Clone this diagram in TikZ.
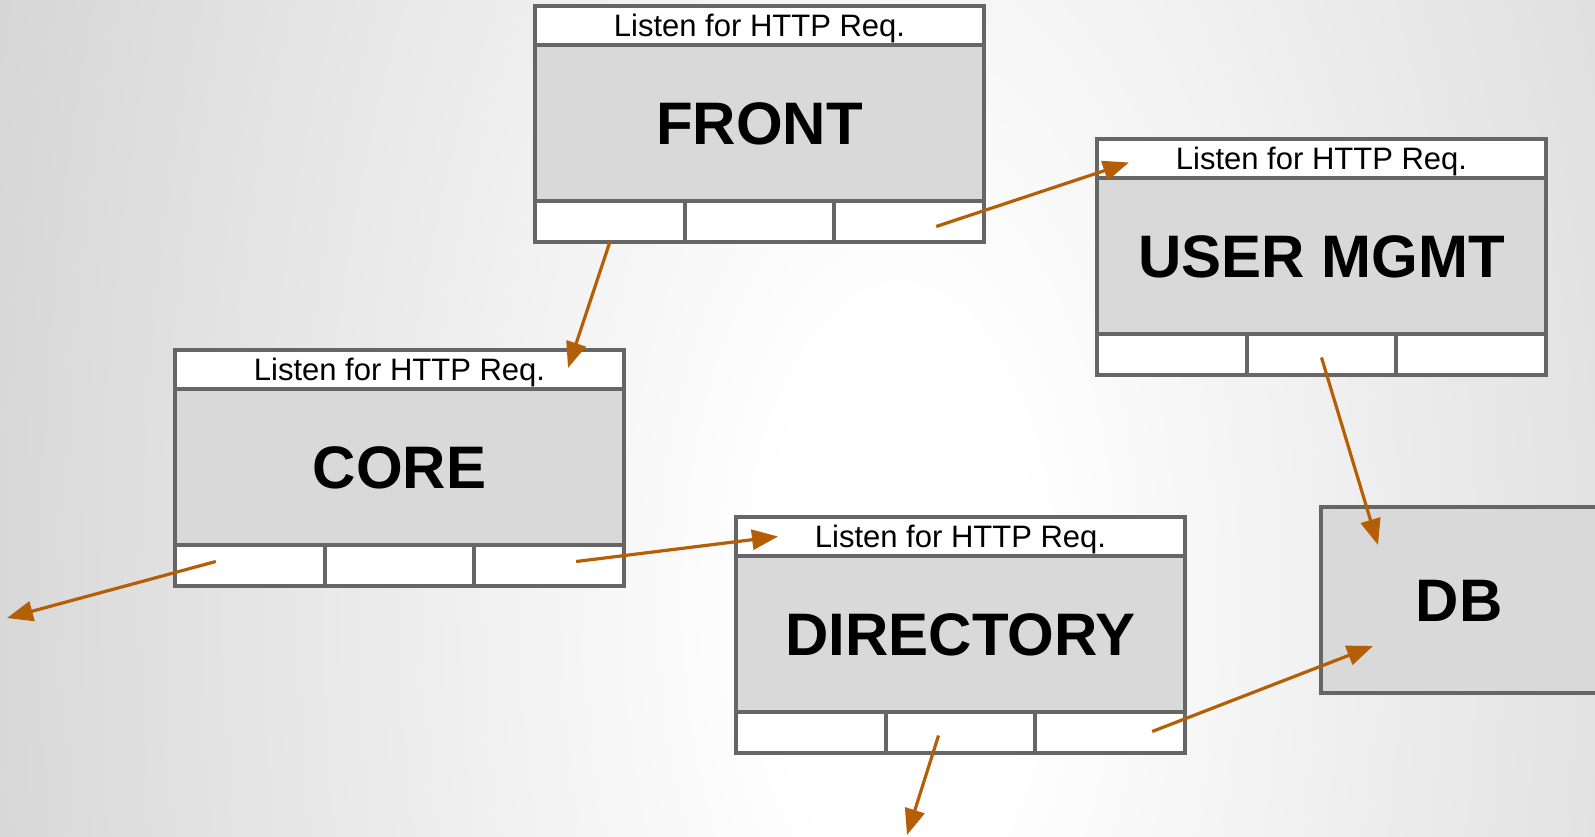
\documentclass[tikz,border=0pt]{standalone}
\usepackage{fontspec}
\setmainfont{Liberation Sans}
\usetikzlibrary{positioning,arrows.meta}

\definecolor{boxline}{HTML}{666666}
\definecolor{boxfill}{HTML}{D9D9D9}
\definecolor{callarrow}{HTML}{B45F06}

% soft light spot behind the services (the inner 25bp cover the path)
\pgfdeclareradialshading{bgglow}{\pgfpoint{0bp}{0bp}}{color(0bp)=(white); color(2.5bp)=(white); color(25bp)=(black!23); color(50bp)=(black!46)}

\tikzset{
  part/.style={draw=boxline, line width=4pt, inner sep=0pt, outer sep=0pt, minimum width=449pt},
  hdr/.style={part, fill=white, minimum height=39pt, font=\fontsize{31}{36}\selectfont, text height=22pt, text depth=0pt},
  body/.style={part, fill=boxfill, minimum height=156pt, font=\fontsize{60}{70}\selectfont\bfseries, text height=43pt, text depth=0pt},
  cell/.style={part, fill=white, minimum width=149.67pt, minimum height=41pt},
  call/.style={color=callarrow, line width=3.2pt, -{Triangle[length=26pt,width=20pt]}}
}

\begin{document}
\begin{tikzpicture}[x=1pt,y=-1pt]
  \useasboundingbox (0,0) rectangle (1595,837);
  \begin{scope}
    \clip (0,0) rectangle (1595,837);
    % stretched twice as tall as wide
    \begin{scope}[transform canvas={yscale=2}]
      \shade[shading=bgglow] (900,300) circle (1300);
    \end{scope}
  \end{scope}

  % service boxes: listener on top, name, three slots below
  \foreach \name/\x/\y/\title in {front/535/6/FRONT, user/1097/139/USER MGMT, core/175/350/CORE, dir/736/517/DIRECTORY}{
    \node[hdr, anchor=north west] (\name-h) at (\x,\y) {Listen for HTTP Req.};
    \node[body, below=0pt of \name-h] (\name) {\title};
    \node[cell, anchor=north west] (\name-c1) at (\name.south west) {};
    \node[cell, right=0pt of \name-c1] (\name-c2) {};
    \node[cell, right=0pt of \name-c2] (\name-c3) {};
  }
  \node[body, minimum width=276pt, minimum height=186pt, anchor=north west] (db) at (1321,507) {DB};

  \coordinate (core-out) at (7,618);
  \coordinate (dir-out) at (907,835);

  \path[call]
    (front-c1.south) edge ([shift={(-56,18)}]core-h.north east)
    ([shift={(27,5)}]front-c3.center) edge ([shift={(32,4)}]user-h.west)
    ([shift={(-34,-4)}]core-c1.center) edge (core-out)
    ([shift={(27,-4)}]core-c3.center) edge ([shift={(42,0)}]dir-h.west)
    ([shift={(0,3)}]user-c2.center) edge ([shift={(57,38)}]db.north west)
    ([shift={(42,-1)}]dir-c3.center) edge ([shift={(52,46)}]db.west)
    ([shift={(-22,3)}]dir-c2.center) edge (dir-out);
\end{tikzpicture}
\end{document}
